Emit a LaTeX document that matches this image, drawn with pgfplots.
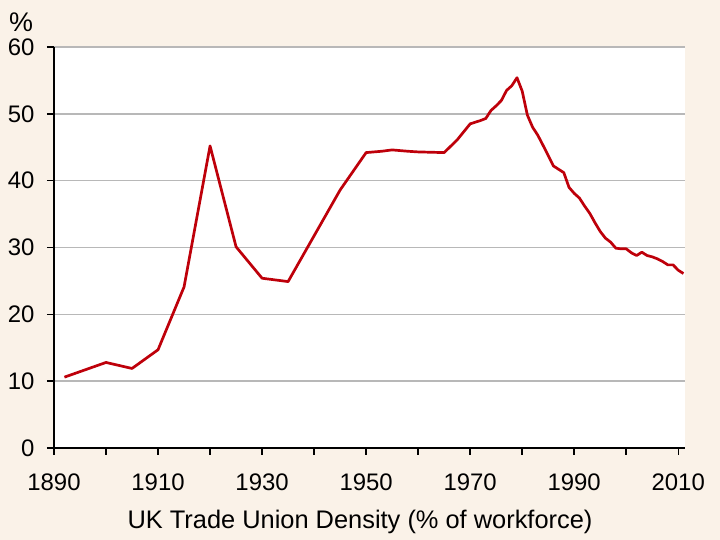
\documentclass[border=0pt]{standalone}
\usepackage{pgfplots}
\pgfplotsset{compat=1.18}
\usepackage{fontspec}
\setmainfont{Liberation Sans}
\definecolor{bgc}{RGB}{250,242,232}
\definecolor{linec}{RGB}{190,0,10}
\definecolor{gridc}{RGB}{184,184,184}
\begin{document}
\begin{tikzpicture}[x=1bp,y=1bp]
\fill[bgc] (0,0) rectangle (720,540);
\begin{axis}[
  at={(54bp,92bp)}, anchor=south west,
  scale only axis, width=631bp, height=401bp,
  xmin=1890, xmax=2011.3, ymin=0, ymax=60,
  axis lines*=left,
  axis line style={black, line width=1.8bp},
  axis background/.style={fill=white},
  xtick={1890,1910,...,2010},
  minor xtick={1900,1920,...,2000},
  ytick={0,10,...,60},
  tick align=outside,
  major tick length=7bp, minor tick length=7bp,
  tick style={black, line width=1.5bp},
  ymajorgrids, major grid style={gridc, line width=1.5bp},
  /pgf/number format/assume math mode=true,
  /pgf/number format/1000 sep={},
  tick label style={font=\fontsize{24}{27}\selectfont},
  xticklabel style={yshift=-15bp},
  yticklabel style={xshift=-9bp},
  clip=false,
]
\addplot[linec, line width=2.7bp, line join=round] coordinates {
(1892,10.6) (1900,12.8) (1905,11.9) (1910,14.7) (1915,24.1) (1920,45.2)
(1925,30.1) (1930,25.4) (1935,24.9) (1945,38.6) (1950,44.2) (1953,44.4)
(1955,44.6) (1958,44.4) (1960,44.3) (1965,44.2) (1967.5,46.1) (1970,48.5)
(1972,49.0) (1973,49.3) (1974,50.5) (1975,51.2) (1976,52.0) (1977,53.5)
(1978,54.2) (1979,55.4) (1980,53.4) (1981,49.8) (1982,48.0) (1983,46.8)
(1984,45.3) (1986,42.2) (1988,41.2) (1989,39.0) (1990,38.1) (1991,37.4)
(1992,36.2) (1993,35.1) (1994,33.7) (1995,32.4) (1996,31.4) (1997,30.8)
(1998,29.9) (1999,29.8) (2000,29.8) (2001,29.2) (2002,28.8) (2003,29.3)
(2004,28.8) (2005,28.6) (2006,28.3) (2007,27.9) (2008,27.4) (2009,27.4)
(2010,26.6) (2011,26.1)
};
\end{axis}
\node[font=\fontsize{27}{30}\selectfont] at (21,518) {\%};
\node[font=\fontsize{25.5}{29}\selectfont] at (360,18) {UK Trade Union Density (\% of workforce)};
\end{tikzpicture}
\end{document}
